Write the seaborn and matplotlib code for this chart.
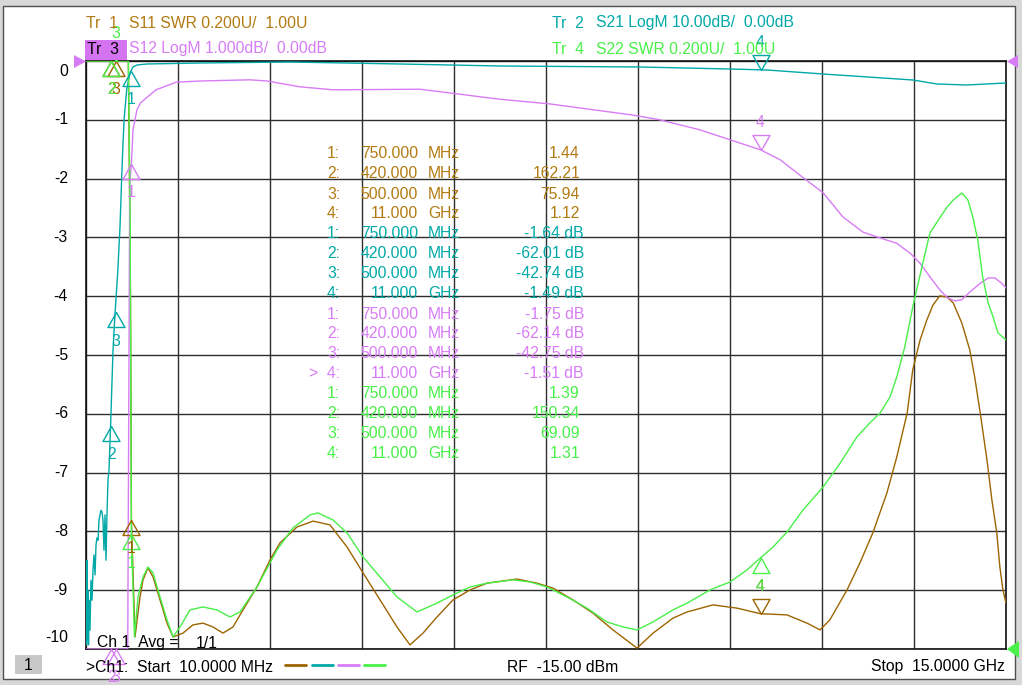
import numpy as np
import pandas as pd
import matplotlib
matplotlib.use("Agg")
import matplotlib.pyplot as plt
import matplotlib.transforms as mtransforms
from matplotlib.patches import Rectangle, Polygon
from matplotlib.lines import Line2D
from matplotlib.path import Path
import seaborn as sns

# ------------------------------------------------------------------ data
start_freq_ghz = 0.01
stop_freq_ghz = 15.0

# Tr2  S21 LogM (dB)
s21_freq_ghz = [0.010, 0.018, 0.026, 0.034, 0.043, 0.051, 0.059, 0.075, 0.091, 0.108,
                0.124, 0.140, 0.157, 0.173, 0.189, 0.206, 0.222, 0.238, 0.254, 0.271,
                0.287, 0.303, 0.320, 0.336, 0.352, 0.368, 0.385, 0.412, 0.450, 0.483,
                0.526, 0.564, 0.592, 0.613, 0.634, 0.673, 0.727, 0.776, 0.841, 0.999,
                1.867, 3.334, 5.126, 6.755, 9.036, 10.503, 11.106, 12.018, 13.484, 13.875,
                14.364, 15.000]
s21_db = [-91.7, -99.3, -84.9, -98.5, -90.0, -99.3, -91.7, -96.8, -88.3, -91.7,
          -86.6, -84.0, -87.4, -82.3, -81.1, -81.5, -78.1, -77.2, -76.4, -76.7,
          -78.1, -83.2, -77.2, -84.9, -77.2, -71.3, -69.6, -61.6, -49.2, -42.9,
          -36.1, -28.2, -19.7, -13.9, -9.5, -4.9, -2.0, -1.0, -0.68, -0.51,
          -0.34, -0.17, -0.51, -0.85, -1.02, -1.36, -1.53, -2.21, -3.23, -3.91,
          -4.08, -3.74]

# Tr3  S12 LogM (dB)
s12_freq_ghz = [0.010, 0.420, 0.500, 0.690, 0.722, 0.750, 0.776, 0.840, 0.900, 1.150,
                1.480, 1.870, 2.680, 2.960, 3.500, 4.040, 5.450, 6.750, 7.570, 8.920,
                9.360, 10.010, 11.000, 11.320, 11.640, 12.020, 12.340, 12.670, 12.950, 13.220,
                13.440, 13.600, 13.760, 13.920, 14.050, 14.170, 14.280, 14.410, 14.580, 14.710,
                14.820, 14.930, 15.000]
s12_db = [-75.0, -62.14, -42.75, -14.0, -2.1, -1.75, -1.17, -0.83, -0.71, -0.49,
          -0.36, -0.34, -0.32, -0.34, -0.44, -0.49, -0.48, -0.65, -0.73, -0.92,
          -1.00, -1.17, -1.51, -1.68, -1.94, -2.24, -2.65, -2.91, -3.01, -3.10,
          -3.27, -3.44, -3.67, -3.89, -4.03, -4.08, -4.06, -3.93, -3.78, -3.69,
          -3.69, -3.78, -3.86]

# Tr1  S11 SWR
s11_freq_ghz = [0.010, 0.420, 0.500, 0.700, 0.735, 0.750, 0.808, 0.890, 0.939, 1.020,
                1.102, 1.216, 1.330, 1.428, 1.590, 1.753, 1.916, 2.079, 2.242, 2.405,
                2.568, 2.796, 3.008, 3.171, 3.448, 3.709, 3.986, 4.263, 4.524, 4.801,
                5.077, 5.289, 5.501, 5.729, 5.990, 6.267, 6.544, 7.032, 7.358, 7.619,
                7.945, 8.270, 8.596, 8.988, 9.249, 9.574, 9.803, 10.226, 10.617, 11.000,
                11.432, 11.758, 11.970, 12.130, 12.410, 12.620, 12.830, 13.060, 13.220, 13.390,
                13.480, 13.600, 13.710, 13.810, 13.920, 14.040, 14.140, 14.280, 14.410, 14.490,
                14.580, 14.690, 14.770, 14.850, 14.900, 14.950, 15.000]
s11_swr = [200.0, 162.21, 75.94, 8.0, 2.2, 1.44, 1.041, 1.177, 1.235, 1.276,
           1.245, 1.167, 1.088, 1.041, 1.054, 1.082, 1.088, 1.075, 1.054, 1.075,
           1.133, 1.211, 1.303, 1.361, 1.415, 1.435, 1.422, 1.347, 1.259, 1.167,
           1.075, 1.014, 1.054, 1.109, 1.167, 1.201, 1.224, 1.238, 1.224, 1.207,
           1.167, 1.122, 1.065, 1.003, 1.054, 1.105, 1.126, 1.150, 1.139, 1.12,
           1.116, 1.088, 1.065, 1.099, 1.201, 1.293, 1.395, 1.531, 1.653, 1.803,
           1.949, 2.051, 2.119, 2.170, 2.201, 2.197, 2.177, 2.109, 2.017, 1.925,
           1.803, 1.643, 1.507, 1.395, 1.279, 1.201, 1.156]

# Tr4  S22 SWR
s22_freq_ghz = [0.010, 0.420, 0.500, 0.700, 0.728, 0.750, 0.800, 0.857, 0.939, 1.020,
                1.102, 1.216, 1.330, 1.428, 1.542, 1.705, 1.916, 2.144, 2.356, 2.519,
                2.796, 3.122, 3.383, 3.660, 3.790, 4.034, 4.263, 4.524, 4.801, 5.077,
                5.403, 5.729, 5.990, 6.267, 6.544, 6.967, 7.244, 7.521, 7.847, 8.173,
                8.499, 8.760, 8.988, 9.249, 9.574, 9.803, 10.177, 10.503, 10.780, 11.000,
                11.204, 11.432, 11.693, 12.020, 12.300, 12.570, 12.780, 12.950, 13.110, 13.220,
                13.350, 13.480, 13.630, 13.760, 13.920, 14.040, 14.140, 14.280, 14.380, 14.460,
                14.540, 14.620, 14.710, 14.790, 14.870, 15.000]
s22_swr = [150.0, 150.34, 69.09, 8.0, 2.5, 1.39, 1.041, 1.177, 1.245, 1.279,
           1.259, 1.177, 1.099, 1.041, 1.075, 1.133, 1.143, 1.133, 1.109, 1.126,
           1.211, 1.337, 1.412, 1.456, 1.463, 1.439, 1.395, 1.313, 1.245, 1.177,
           1.126, 1.156, 1.184, 1.211, 1.224, 1.235, 1.228, 1.211, 1.177, 1.139,
           1.092, 1.075, 1.065, 1.092, 1.133, 1.156, 1.201, 1.228, 1.269, 1.31,
           1.347, 1.398, 1.473, 1.551, 1.633, 1.721, 1.769, 1.803, 1.857, 1.925,
           2.027, 2.163, 2.299, 2.415, 2.466, 2.503, 2.527, 2.551, 2.527, 2.469,
           2.391, 2.265, 2.177, 2.129, 2.075, 2.051]

# markers
marker_freq_ghz = [0.75, 0.42, 0.50, 11.0]
marker_freq_text = ["750.000", "420.000", "500.000", "11.000"]
marker_unit_text = ["MHz", "MHz", "MHz", "GHz"]
s11_marker_vals = [1.44, 162.21, 75.94, 1.12]
s21_marker_vals = [-1.64, -62.01, -42.74, -1.49]
s12_marker_vals = [-1.75, -62.14, -42.75, -1.51]
s22_marker_vals = [1.39, 150.34, 69.09, 1.31]

y_tick_values = [0, -1, -2, -3, -4, -5, -6, -7, -8, -9, -10]

# ------------------------------------------------------------------ style
BROWN_L = "#9c6500"
BROWN_T = "#b27a10"
TEAL = "#00a8a8"
PINK = "#d87cf6"
GREEN = "#48f048"
GRID = "#2e2e2e"

W, H = 1022, 685
sns.set_theme(style="white")
plt.rcParams["font.family"] = ["Liberation Sans", "DejaVu Sans"]
FS = 11.3

fig = plt.figure(figsize=(W / 100, H / 100), dpi=100, facecolor="#d8d8d8")
pix = mtransforms.Affine2D().scale(1 / W, -1 / H).translate(0, 1) + fig.transFigure

# window panel
fig.add_artist(Rectangle((3, 6), 1012, 673, transform=pix, facecolor="white",
                         edgecolor="#505050", lw=1.0, zorder=0))

ax = fig.add_axes([86 / W, (H - 649) / H, 920 / W, 588 / H])
ax.set_facecolor("white")

def swr_div(v):
    return (np.asarray(v, dtype=float) - 1.0) / 0.2 - 10.0

def s21_div(v):
    return np.asarray(v, dtype=float) / 10.0

def s12_div(v):
    return np.asarray(v, dtype=float) / 1.0

traces = [
    ("S11", s11_freq_ghz, swr_div(s11_swr), BROWN_L),
    ("S21", s21_freq_ghz, s21_div(s21_db), TEAL),
    ("S12", s12_freq_ghz, s12_div(s12_db), PINK),
    ("S22", s22_freq_ghz, swr_div(s22_swr), GREEN),
]
for name, f, v, c in traces:
    df = pd.DataFrame({"f": f, "v": np.clip(v, -10, 0)})
    sns.lineplot(data=df, x="f", y="v", color=c, lw=1.0, ax=ax, sort=False,
                 estimator=None, zorder=3)

ax.set_xlim(start_freq_ghz, stop_freq_ghz)
ax.set_ylim(-10, 0)
step = (stop_freq_ghz - start_freq_ghz) / 10
ax.set_xticks([start_freq_ghz + k * step for k in range(11)])
ax.set_yticks(y_tick_values)
ax.set_xticklabels([])
ax.set_yticklabels([])
ax.tick_params(length=0)
ax.grid(True, color=GRID, lw=1.0)
ax.set_axisbelow(True)
ax.set_xlabel("")
ax.set_ylabel("")
for s in ax.spines.values():
    s.set_color("#111111")
    s.set_linewidth(1.2)

# y labels (pixel positions)
for t in y_tick_values:
    ypx = 61 - t * 58.8
    if t == 0:
        ypx += 10
    elif t == -10:
        ypx -= 12
    fig.text(68 / W, 1 - ypx / H, str(t), ha="right", va="center", fontsize=FS, color="black")

# markers
up_path = Path([(0, 0), (-0.567, -1), (0.567, -1), (0, 0)])
down_path = Path([(0, 0), (-0.567, 1), (0.567, 1), (0, 0)])
marker_sets = [
    (s11_marker_vals, swr_div, BROWN_L, ["up", "up", "up", "down"]),
    (s21_marker_vals, s21_div, TEAL, ["up", "up", "up", "down"]),
    (s12_marker_vals, s12_div, PINK, ["up", "up", "up", "down"]),
    (s22_marker_vals, swr_div, GREEN, ["up", "up", "down", "up"]),
]
for vals, conv, c, orients in marker_sets:
    dv = np.clip(conv(vals), -10, 0)
    for i, (f, y, o) in enumerate(zip(marker_freq_ghz, dv, orients)):
        ax.plot([f], [y], marker=up_path if o == "up" else down_path, ms=21.6,
                mfc="none", mec=c, mew=1.0, ls="none", clip_on=False, zorder=5)
        off = -29 if o == "up" else 27
        ax.annotate(str(i + 1), (f, y), xytext=(0, off), textcoords="offset pixels",
                    ha="center", va="center", fontsize=FS, color=c,
                    annotation_clip=False, zorder=6)

# header
fig.text(86 / W, 1 - 23 / H, "Tr  1", fontsize=FS, color=BROWN_T, va="center")
fig.text(129 / W, 1 - 23 / H, "S11 SWR 0.200U/  1.00U", fontsize=FS, color=BROWN_T, va="center")
fig.add_artist(Rectangle((85, 40), 42, 20, transform=pix, facecolor="#d474f0",
                         edgecolor="none", zorder=4))
fig.text(87 / W, 1 - 49 / H, "Tr  3", fontsize=FS, color="black", va="center", zorder=5)
fig.text(129 / W, 1 - 49 / H, "S12 LogM 1.000dB/  0.00dB", fontsize=FS, color=PINK, va="center")
fig.text(552 / W, 1 - 23 / H, "Tr  2", fontsize=FS, color=TEAL, va="center")
fig.text(596 / W, 1 - 23 / H, "S21 LogM 10.00dB/  0.00dB", fontsize=FS, color=TEAL, va="center")
fig.text(552 / W, 1 - 49 / H, "Tr  4", fontsize=FS, color=GREEN, va="center")
fig.text(596 / W, 1 - 49 / H, "S22 SWR 0.200U/  1.00U", fontsize=FS, color=GREEN, va="center")

# marker table
table = [
    (s11_marker_vals, BROWN_T, "{:.2f}", 580),
    (s21_marker_vals, TEAL, "{:.2f} dB", 584),
    (s12_marker_vals, PINK, "{:.2f} dB", 584),
    (s22_marker_vals, GREEN, "{:.2f}", 580),
]
row = 0
for ti, (vals, c, fmt, xr) in enumerate(table):
    for i in range(4):
        ypx = 154 + 20 * row
        lab = f"{i + 1}:"
        if ti == 2 and i == 3:
            lab = ">  4:"
        fig.text(340 / W, 1 - ypx / H, lab, ha="right", va="center", fontsize=FS, color=c)
        fig.text(418 / W, 1 - ypx / H, marker_freq_text[i], ha="right", va="center",
                 fontsize=FS, color=c)
        fig.text(428 / W, 1 - ypx / H, marker_unit_text[i], ha="left", va="center",
                 fontsize=FS, color=c)
        fig.text(xr / W, 1 - ypx / H, fmt.format(vals[i]), ha="right", va="center",
                 fontsize=FS, color=c)
        row += 1

# reference arrows
fig.add_artist(Polygon([(74, 55), (74, 68), (86, 61.5)], closed=True, transform=pix,
                       facecolor=PINK, edgecolor="none", zorder=6))
fig.add_artist(Polygon([(1018, 55), (1018, 68), (1007, 61.5)], closed=True, transform=pix,
                       facecolor=PINK, edgecolor="none", zorder=6))
fig.add_artist(Polygon([(1019, 641), (1019, 658), (1007, 649)], closed=True, transform=pix,
                       facecolor=GREEN, edgecolor="none", zorder=6))

# in-plot channel text
fig.text(97 / W, 1 - 643 / H, "Ch 1  Avg =", fontsize=FS, color="black", va="center", zorder=7)
fig.text(196 / W, 1 - 643 / H, "1/1", fontsize=FS, color="black", va="center", zorder=7)

# bottom status bar
fig.add_artist(Rectangle((15, 655), 27, 19, transform=pix, facecolor="#c8c8c8",
                         edgecolor="none"))
fig.text(28.5 / W, 1 - 665 / H, "1", fontsize=FS, color="black", ha="center", va="center")
fig.text(86 / W, 1 - 667 / H, ">Ch1:  Start  10.0000 MHz", fontsize=FS, color="black", va="center")
for x0, c in [(285, BROWN_L), (312, TEAL), (338, PINK), (364, GREEN)]:
    fig.add_artist(Line2D([x0, x0 + 21], [665, 665], transform=pix, color=c, lw=2.0))
fig.text(507 / W, 1 - 667 / H, "RF  -15.00 dBm", fontsize=FS, color="black", va="center")
fig.text(1005 / W, 1 - 667 / H, "Stop  15.0000 GHz", fontsize=FS, color="black",
         va="center", ha="right")

fig.savefig("out.png", dpi=100, facecolor=fig.get_facecolor())
